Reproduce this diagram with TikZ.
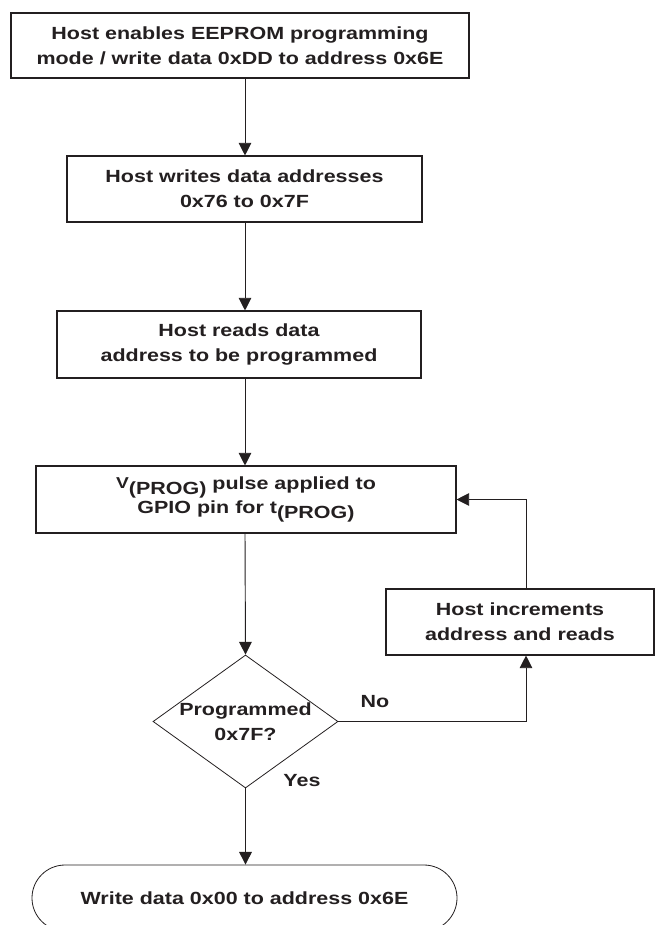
\documentclass[tikz,border=0pt]{standalone}
\usepackage{fontspec}
\setmainfont{Liberation Sans}[FakeStretch=1.22]
\usepackage{tikz}
\usetikzlibrary{shapes.geometric, shapes.misc, arrows.meta}
\definecolor{tinta}{HTML}{231F20}

\begin{document}
\begin{tikzpicture}[x=0.75pt, y=-0.75pt]
        \tikzstyle{every node} = [font=\bfseries\fontsize{13.2}{18.75}\selectfont, text=tinta, align=center]
        \tikzstyle{pas}        = [rectangle, draw=tinta, line width=0.8pt, inner sep=0pt]
        \tikzstyle{decizie}    = [diamond, draw=tinta, line width=0.6pt, inner sep=-30pt]
        \tikzstyle{capat}      = [rounded rectangle, draw=tinta, line width=0.6pt, inner sep=0pt]
        \tikzstyle{sageata}    = [draw=tinta, line width=0.7pt, -{Triangle[length=9.5pt, width=9.5pt]}]

        \clip (0,0) rectangle (655,925);

        \node[pas, minimum width=343.5pt, minimum height=48.75pt] (b1) at (240,45.5)
            {Host enables EEPROM programming\\mode / write data 0xDD to address 0x6E};
        \node[pas, minimum width=266.25pt, minimum height=49.5pt] (b2) at (244.5,189)
            {Host writes data addresses\\0x76 to 0x7F};
        \node[pas, minimum width=273pt, minimum height=50.25pt] (b3) at (239,344.5)
            {Host reads data\\address to be programmed};
        \node[pas, minimum width=315pt, minimum height=50.25pt] (b4) at (246,499.5)
            {\raisebox{1pt}{\fontsize{11.8}{11.8}\selectfont V}\raisebox{-4pt}{(PROG)} pulse applied to\\[-1pt]
             GPIO pin for t\raisebox{-4pt}{(PROG)}};
        \node[pas, minimum width=201pt, minimum height=49.5pt] (b5) at (520,622)
            {Host increments\\address and reads};
        \node[decizie, minimum width=138.75pt, minimum height=99.75pt] (prog) at (245.5,721.5)
            {Programmed\\0x7F?};
        \node[capat, minimum width=318.75pt, minimum height=49.5pt] (fin) at (244.5,898)
            {Write data 0x00 to address 0x6E};

        \node (nu) at (375,702) {No};
        \node (da) at (302,781) {Yes};

        % Legaturile.
        \coordinate (ax) at (245,0);
        \coordinate (ret) at (526,0);
        \draw[sageata] (b1.south -| ax) -- (b2.north -| ax);
        \draw[sageata] (b2.south -| ax) -- (b3.north -| ax);
        \draw[sageata] (b3.south -| ax) -- (b4.north -| ax);
        \draw[sageata] (b4.south -| ax) -- (prog.north);
        \draw[sageata] (prog.south) -- (fin.north -| prog.south);
        \draw[sageata] (prog.east) -| (b5.south -| ret);
        \draw[sageata] (b5.north -| ret) |- (b4.east);
    \end{tikzpicture}
\end{document}
